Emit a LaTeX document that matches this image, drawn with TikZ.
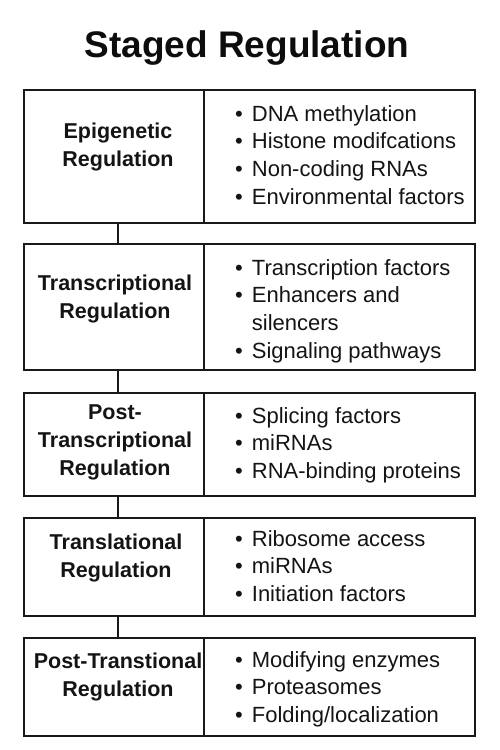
\documentclass[tikz,border=0pt]{standalone}
\usepackage{fontspec}
\setmainfont{Liberation Sans}
\begin{document}
\begin{tikzpicture}[x=1pt,y=-1pt,
  cell/.style={draw=black!90, line width=1.3pt, inner sep=0pt, outer sep=0pt},
  lab/.style={font=\bfseries\fontsize{21.5}{28}\selectfont, text=black!92, inner sep=0pt, anchor=base},
  lst/.style={font=\fontsize{22}{27.7}\selectfont, text=black!92, inner sep=0pt, anchor=base west},
  conn/.style={draw=black!90, line width=1.3pt}]
\useasboundingbox[fill=white] (0,0) rectangle (500,750);
\node[font=\bfseries\fontsize{37}{40}\selectfont, text=black!95, anchor=base, inner sep=0pt] (title) at (247,57) {Staged Regulation};
% boxes
\node[cell, minimum width=180pt, minimum height=133pt] (L1) at (114,156.5) {};
\node[cell, minimum width=271pt, minimum height=133pt] (R1) at (339.5,156.5) {};
\node[cell, minimum width=180pt, minimum height=126pt] (L2) at (114,307) {};
\node[cell, minimum width=271pt, minimum height=126pt] (R2) at (339.5,307) {};
\node[cell, minimum width=180pt, minimum height=103pt] (L3) at (114,444.5) {};
\node[cell, minimum width=271pt, minimum height=103pt] (R3) at (339.5,444.5) {};
\node[cell, minimum width=180pt, minimum height=98pt] (L4) at (114,567) {};
\node[cell, minimum width=271pt, minimum height=98pt] (R4) at (339.5,567) {};
\node[cell, minimum width=180pt, minimum height=98pt] (L5) at (114,687) {};
\node[cell, minimum width=271pt, minimum height=98pt] (R5) at (339.5,687) {};
% connectors
\draw[conn] ([xshift=4pt]L1.south) -- ([xshift=4pt]L2.north);
\draw[conn] ([xshift=4pt]L2.south) -- ([xshift=4pt]L3.north);
\draw[conn] ([xshift=4pt]L3.south) -- ([xshift=4pt]L4.north);
\draw[conn] ([xshift=4pt]L4.south) -- ([xshift=4pt]L5.north);
% labels
\node[lab] (t1) at (118,138) {\begin{tabular}[t]{@{}c@{}}Epigenetic\\Regulation\end{tabular}};
\node[lab] (t2) at (115,290) {\begin{tabular}[t]{@{}c@{}}Transcriptional\\Regulation\end{tabular}};
\node[lab] (t3) at (115,419) {\begin{tabular}[t]{@{}c@{}}Post-\\Transcriptional\\Regulation\end{tabular}};
\node[lab] (t4) at (116,549) {\begin{tabular}[t]{@{}c@{}}Translational\\Regulation\end{tabular}};
\node[lab] (t5) at (118,668) {\begin{tabular}[t]{@{}c@{}}Post-Transtional\\Regulation\end{tabular}};
% lists
\node[lst] (s1) at (235,121) {\begin{tabular}[t]{@{}l@{\hspace{9pt}}l@{}}\textbullet & DNA methylation\\ \textbullet & Histone modifcations\\ \textbullet & Non-coding RNAs\\ \textbullet & Environmental factors\end{tabular}};
\node[lst] (s2) at (235,275) {\begin{tabular}[t]{@{}l@{\hspace{9pt}}l@{}}\textbullet & Transcription factors\\ \textbullet & Enhancers and\\ & silencers\\ \textbullet & Signaling pathways\end{tabular}};
\node[lst] (s3) at (235,423) {\begin{tabular}[t]{@{}l@{\hspace{9pt}}l@{}}\textbullet & Splicing factors\\ \textbullet & miRNAs\\ \textbullet & RNA-binding proteins\end{tabular}};
\node[lst] (s4) at (235,546) {\begin{tabular}[t]{@{}l@{\hspace{9pt}}l@{}}\textbullet & Ribosome access\\ \textbullet & miRNAs\\ \textbullet & Initiation factors\end{tabular}};
\node[lst] (s5) at (235,667) {\begin{tabular}[t]{@{}l@{\hspace{9pt}}l@{}}\textbullet & Modifying enzymes\\ \textbullet & Proteasomes\\ \textbullet & Folding/localization\end{tabular}};
\end{tikzpicture}
\end{document}
